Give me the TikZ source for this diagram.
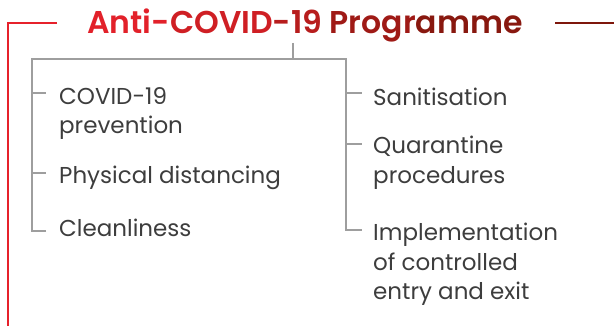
\documentclass[tikz,border=0pt]{standalone}
\usepackage{fontspec}
\setmainfont{Poppins}[BoldFont={Poppins SemiBold}]
\usepackage{xcolor}

\definecolor{covred}{HTML}{E6212B}
\definecolor{covdark}{HTML}{7E170C}
\definecolor{treegray}{HTML}{9E9E9E}
\definecolor{itemgray}{HTML}{3D3D3D}
% shades for the title, left to right
\colorlet{titleA}{covdark!4!covred}
\colorlet{titleB}{covdark!22!covred}
\colorlet{titleC}{covdark!45!covred}
\colorlet{titleD}{covdark!68!covred}
\colorlet{titleE}{covdark!90!covred}

\tikzset{
  tree/.style={treegray, line width=2pt},
  frame/.style={covred, line width=2pt},
  item/.style={anchor=north west, align=left, inner sep=0pt, text=itemgray,
    font=\fontsize{23}{29.5}\selectfont},
}

\begin{document}
\begin{tikzpicture}[x=1pt,y=-1pt]
    \useasboundingbox (0,0) rectangle (614,326);

    % Title
    \node[anchor=base, inner sep=0pt, font=\fontsize{31.5}{36}\selectfont\bfseries] (title) at (305,34)
        {\textcolor{titleA}{Anti-}\textcolor{titleB}{COVID}\textcolor{titleC}{-19 }\textcolor{titleD}{Progr}\textcolor{titleE}{amme}};

    % Red frame lines
    \coordinate (redstart) at (57,23);
    \coordinate (redcorner) at (8,23);
    \coordinate (redend) at (8,326);
    \coordinate (darkstart) at (555,23);
    \coordinate (darkend) at (614,23);
    \draw[frame] (redstart) -- (redcorner) -- (redend);
    \draw[covdark, line width=2pt] (darkstart) -- (darkend);

    % Left column
    \node[item] (cov) at (59,87) {COVID-19\\prevention};
    \node[item] (phys) at (59,166) {Physical distancing};
    \node[item] (clean) at (59,219) {Cleanliness};

    % Right column
    \node[item] (sanit) at (373,88) {Sanitisation};
    \node[item] (quar) at (373,136) {Quarantine\\procedures};
    \node[item] (impl) at (373,223) {Implementation\\of controlled\\entry and exit};

    % Tick points
    \coordinate (covt) at ([shift={(-13,6)}]cov.north west);
    \coordinate (physt) at ([shift={(-13,7)}]phys.north west);
    \coordinate (cleant) at ([shift={(-13,12)}]clean.north west);
    \coordinate (sanitt) at ([shift={(-11,5)}]sanit.north west);
    \coordinate (quart) at ([shift={(-11,8)}]quar.north west);
    \coordinate (implt) at ([shift={(-11,7)}]impl.north west);

    % Tree
    \coordinate (stub) at (293,59);
    \coordinate (lbar) at (32,59);
    \coordinate (rbar) at (346,59);
    \draw[tree] (stub |- title.south) -- (stub);
    \draw[tree] (cleant) -- (lbar |- cleant) -- (lbar) -- (rbar) -- (rbar |- implt) -- (implt);
    \draw[tree] (lbar |- covt) -- (covt);
    \draw[tree] (lbar |- physt) -- (physt);
    \draw[tree] (rbar |- sanitt) -- (sanitt);
    \draw[tree] (rbar |- quart) -- (quart);

\end{tikzpicture}
\end{document}
